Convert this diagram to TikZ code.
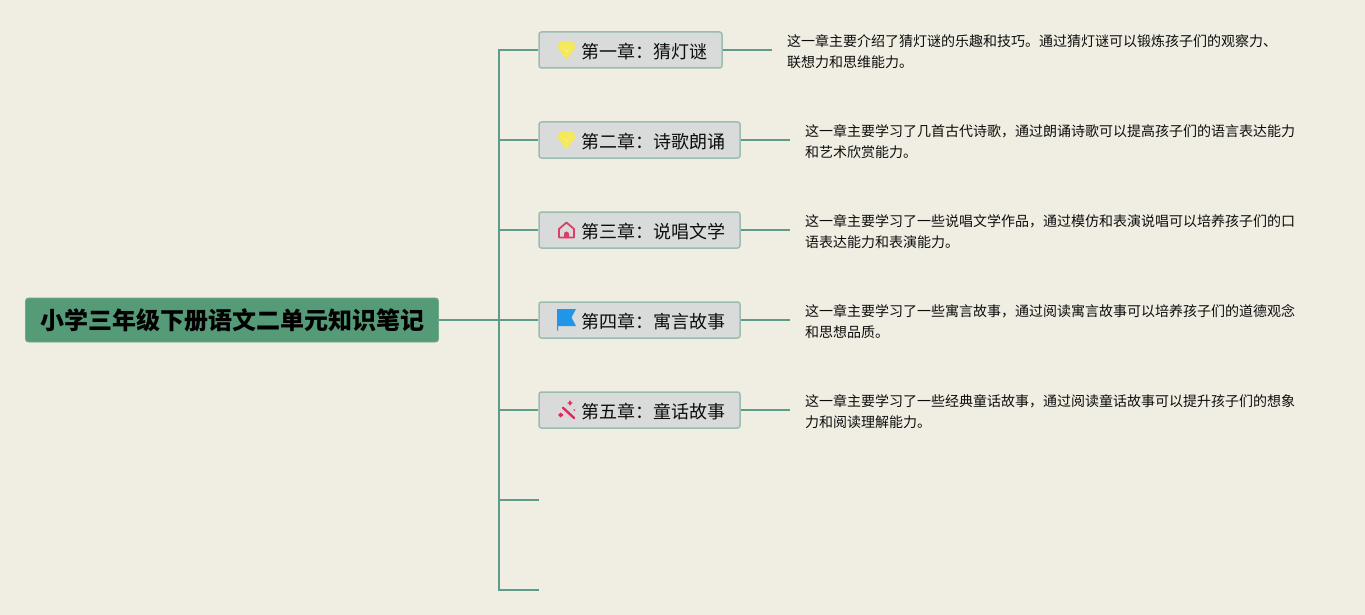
\documentclass[tikz,border=0pt]{standalone}
\usepackage{fontspec}
\setmainfont{Noto Sans CJK SC}
\begin{document}
\begin{tikzpicture}[x=1pt,y=-1pt,
  link/.style={draw=linkc,line width=1.6pt},
  rootbox/.style={draw=rootb,line width=.8pt,fill=rootf,rounded corners=3pt,minimum width=413pt,minimum height=44pt,inner sep=0pt,font=\fontsize{24}{28}\selectfont\bfseries,text=black},
  chapbox/.style={draw=chapb,line width=1.5pt,fill=chapf,rounded corners=2.5pt,minimum height=36pt,inner sep=0pt},
  chaplabel/.style={anchor=west,inner sep=0pt,font=\fontsize{18}{22}\selectfont,text=black!95},
  desc/.style={anchor=west,align=left,inner sep=0pt,font=\fontsize{14}{20.6}\selectfont,text=black!95},
  yel/.style={fill=icony,draw=none},
]
\definecolor{bg}{HTML}{F0EDE2}
\definecolor{linkc}{HTML}{5E9B8B}
\definecolor{rootf}{HTML}{559B78}
\definecolor{rootb}{HTML}{6FAA8A}
\definecolor{chapf}{HTML}{D9DBDB}
\definecolor{chapb}{HTML}{9ABDB0}
\definecolor{icony}{HTML}{F3E95A}
\definecolor{iconr}{HTML}{DC3F66}
\definecolor{iconb}{HTML}{2196E8}
\definecolor{iconp}{HTML}{E8245F}
\useasboundingbox (0,0) rectangle (1365,615);
\fill[bg] (0,0) rectangle (1365,615);

\node[rootbox] (root) at (232,320) {小学三年级下册语文二单元知识笔记};

\node[chapbox,minimum width=183pt] (c1) at (630.5,50) {};
\node[chapbox,minimum width=201pt] (c2) at (639.5,140) {};
\node[chapbox,minimum width=201pt] (c3) at (639.5,230) {};
\node[chapbox,minimum width=201pt] (c4) at (639.5,320) {};
\node[chapbox,minimum width=201pt] (c5) at (639.5,410) {};

\foreach \n/\t/\y in {l1/第一章：猜灯谜/50,l2/第二章：诗歌朗诵/140,l3/第三章：说唱文学/230,l4/第四章：寓言故事/320,l5/第五章：童话故事/410}
  \node[chaplabel] (\n) at (581.5,\y+2) {\t};

\coordinate (trunk) at (499,320);
\coordinate (s6) at (539,500);
\coordinate (s7) at (539,590);
\coordinate (e1) at (772,50);
\coordinate (e2) at (790,140);
\coordinate (e3) at (790,230);
\coordinate (e4) at (790,320);
\coordinate (e5) at (790,410);

\draw[link] (root.east) -- (trunk);
\draw[link] (c1.west) -- (499,50) -- (499,590) -- (s7);
\draw[link] (trunk) -- (c4.west);
\draw[link] (499,140) -- (c2.west);
\draw[link] (499,230) -- (c3.west);
\draw[link] (499,410) -- (c5.west);
\draw[link] (499,500) -- (s6);
\foreach \i in {1,...,5} \draw[link] (c\i.east) -- (e\i);

\node[desc] (d1) at (787,51.5) {这一章主要介绍了猜灯谜的乐趣和技巧。通过猜灯谜可以锻炼孩子们的观察力、\\联想力和思维能力。};
\node[desc] (d2) at (805,141.5) {这一章主要学习了几首古代诗歌，通过朗诵诗歌可以提高孩子们的语言表达能力\\和艺术欣赏能力。};
\node[desc] (d3) at (805,231.5) {这一章主要学习了一些说唱文学作品，通过模仿和表演说唱可以培养孩子们的口\\语表达能力和表演能力。};
\node[desc] (d4) at (805,321.5) {这一章主要学习了一些寓言故事，通过阅读寓言故事可以培养孩子们的道德观念\\和思想品质。};
\node[desc] (d5) at (805,411.5) {这一章主要学习了一些经典童话故事，通过阅读童话故事可以提升孩子们的想象\\力和阅读理解能力。};

% gem icons
\foreach \y in {50,140}{
  \begin{scope}[shift={(566.5,\y)}]
    \fill[yel,rounded corners=1pt] (-6,-8.5) -- (6,-8.5) -- (9.5,-3) -- (0,9.5) -- (-9.5,-3) -- cycle;
    \draw[white!35!icony,line width=.6pt] (-3,-2.5) -- (0,2) -- (3,-2.5);
  \end{scope}
}
% house
\begin{scope}[shift={(566.5,230)}]
  \draw[iconr,line width=1.8pt,line join=round] (-7.5,7.5) -- (-7.5,-1) -- (0,-7.5) -- (7.5,-1) -- (7.5,7.5) -- cycle;
  \fill[iconr] (-2.5,8) -- (-2.5,4) arc[start angle=180,end angle=360,radius=2.5] -- (2.5,8) -- cycle;
\end{scope}
% flag
\begin{scope}[shift={(566.5,320)}]
  \fill[iconb] (-9.5,-11) -- (9.5,-11) -- (5,-2.5) -- (9.5,6) -- (-8.5,6) -- (-8.5,10.5) -- (-9.5,10.5) -- cycle;
\end{scope}
% magic wand
\begin{scope}[shift={(566.5,410)}]
  \draw[iconp,line width=2.4pt,line cap=round] (-3.5,-2.2) -- (7.6,8);
  \fill[iconp] (3.5,-10) -- (4.5,-7.8) -- (6.5,-7) -- (4.5,-6.2) -- (3.5,-4) -- (2.5,-6.2) -- (.5,-7) -- (2.5,-7.8) -- cycle;
  \fill[iconp] (-6,5) -- (-4.6,3.6) -- (-3.2,5) -- (-4.6,6.4) -- cycle;
  \fill[iconp] (-8.5,5) -- (-6,2.5) -- (-3.5,5) -- (-6,7.5) -- cycle;
  \fill[iconp] (7.8,0) circle (.9);
\end{scope}
\end{tikzpicture}
\end{document}
